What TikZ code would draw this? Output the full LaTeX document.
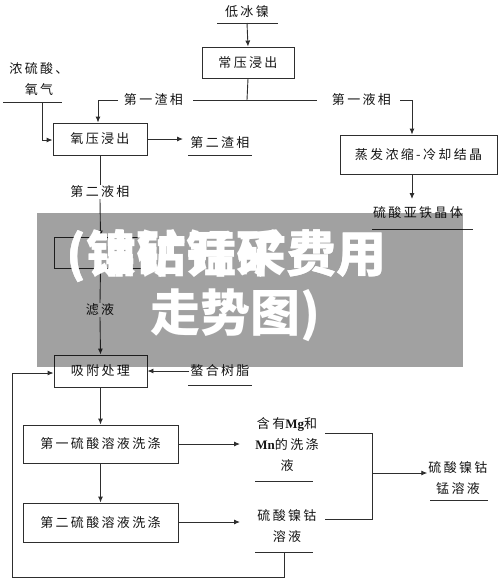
\documentclass[tikz,border=0pt]{standalone}
\usepackage{fontspec}
\setmainfont{Liberation Serif}
\newfontfamily\cjk[LetterSpace=18]{Noto Sans CJK SC}
\newfontfamily\cjkbig{Noto Sans CJK SC}
\usetikzlibrary{arrows.meta}
\definecolor{linec}{HTML}{2E2E2E}
\definecolor{txtc}{HTML}{151515}
\tikzset{
  ln/.style={draw=linec, line width=0.9pt},
  arr/.style={ln, -{Latex[length=6pt,width=5pt]}},
  box/.style={draw=linec, line width=0.9pt, rectangle, inner sep=0pt, text=txtc,
              font=\cjk\fontsize{13}{15}\selectfont},
  lbl/.style={inner sep=1pt, text=txtc, align=center,
              font=\cjk\fontsize{13}{21}\selectfont},
  big/.style={inner sep=0pt, text=white, anchor=base west,
              font=\cjkbig\bfseries\fontsize{50}{50}\selectfont}
}
\begin{document}
\begin{tikzpicture}[x=1pt,y=-1pt]
\useasboundingbox (0,0) rectangle (500,582);
% boxes
\node[box, minimum width=92pt, minimum height=31pt] (b1) at (248,62.5) {常压浸出};
\node[box, minimum width=94pt, minimum height=32pt] (b2) at (100,139) {氧压浸出};
\node[box, minimum width=157pt, minimum height=39pt] (b3) at (418.5,154.5) {蒸发浓缩-冷却结晶};
\node[box, minimum width=93pt, minimum height=31pt] (b4) at (100.5,252.5) {};
\node[box, minimum width=93pt, minimum height=32pt] (b5) at (100.5,371) {吸附处理};
\node[box, minimum width=155pt, minimum height=38pt] (b6) at (100.5,444) {第一硫酸溶液洗涤};
\node[box, minimum width=155pt, minimum height=39pt] (b7) at (100.5,522.5) {第二硫酸溶液洗涤};
% labels
\node[lbl] (t0) at (247,12) {低冰镍};
\node[lbl] (tacid) at (39,79) {浓硫酸、\\氧气};
\node[lbl] (tz1) at (153.5,100) {第一渣相};
\node[lbl] (ty1) at (361.5,100) {第一液相};
\node[lbl] (tz2) at (220,143) {第二渣相};
\node[lbl] (tfe) at (418,213) {硫酸亚铁晶体};
\node[lbl] (ty2) at (100,192) {第二液相};
\node[lbl] (tlv) at (100,310) {滤液};
\node[lbl] (tsz) at (220,371) {螯合树脂};
\node[lbl] (tmg) at (287,445) {含有{\rmfamily\bfseries Mg}和\\{\rmfamily\bfseries Mn}的洗涤\\液};
\node[lbl] (tni) at (287,526) {硫酸镍钴\\溶液};
\node[lbl] (tout) at (458,478) {硫酸镍钴\\锰溶液};
% underlines
\coordinate (u0a) at (217,23); \coordinate (u0b) at (278,23);
\coordinate (uaa) at (3,102); \coordinate (uab) at (62,102);
\coordinate (uza) at (188,155); \coordinate (uzb) at (252,155);
\coordinate (ufa) at (372,229); \coordinate (ufb) at (473,229);
\coordinate (usa) at (188,385); \coordinate (usb) at (252,385);
\coordinate (uma) at (255,481); \coordinate (umb) at (313,481);
\coordinate (una) at (255,552); \coordinate (unb) at (313,552);
\coordinate (uoa) at (430,500); \coordinate (uob) at (488,500);
\foreach \a/\b in {u0a/u0b,uaa/uab,uza/uzb,ufa/ufb,usa/usb,uma/umb,una/unb,uoa/uob}
  \draw[ln] (\a) -- (\b);
% connectors
\coordinate (j0) at (247,23);
\draw[arr] (j0) -- (b1.north);
\coordinate (j1) at (247,100);
\draw[ln] (b1.south) -- (j1);
\draw[ln] (j1) -- (193,100);
\draw[ln] (j1) -- (317,100);
\coordinate (cl) at (98,100);
\draw[arr] (118,100) -- (cl) -- (b2.north -| cl);
\coordinate (cr) at (412,100);
\draw[arr] (400,100) -- (cr) -- (b3.north -| cr);
\coordinate (ja) at (42,102);
\draw[arr] (ja) -- (42,140) -- (b2.west |- 0,140);
\draw[arr] (b2.east) -- (183,139);
\draw[arr] (b3.south -| cr) -- (412,199);
\draw[ln] (b2.south) -- (ty2.north);
\draw[arr] (ty2.south) -- (b4.north);
\draw[ln] (b4.south) -- (tlv.north);
\draw[arr] (tlv.south) -- (b5.north);
\draw[arr] (tsz.west) -- (b5.east);
\draw[arr] (b5.south) -- (b6.north);
\draw[arr] (b6.south) -- (b7.north);
\draw[arr] (b6.east) -- (240,444);
\draw[arr] (b7.east |- 0,522) -- (240,522);
\coordinate (jn) at (284,552);
\draw[arr] (jn) -- (284,577) -- (12,577) -- (12,373) -- (b5.west |- 0,373);
\coordinate (m1) at (325,433); \coordinate (m2) at (325,519); \coordinate (mj) at (372,473);
\draw[ln] (m1) -- (372,433) -- (372,519) -- (m2);
\draw[arr] (mj) -- (tout.west |- mj);
% overlay
\fill[black, opacity=0.37] (37,213) rectangle (463,367);
\node[big] (w1) at (66,272) {(镍钴锰矿费用};
\node[big] (w2) at (66,272) {(钴矿开采费用};
\node[big] (w3) at (150,331) {走势图)};
\end{tikzpicture}
\end{document}
